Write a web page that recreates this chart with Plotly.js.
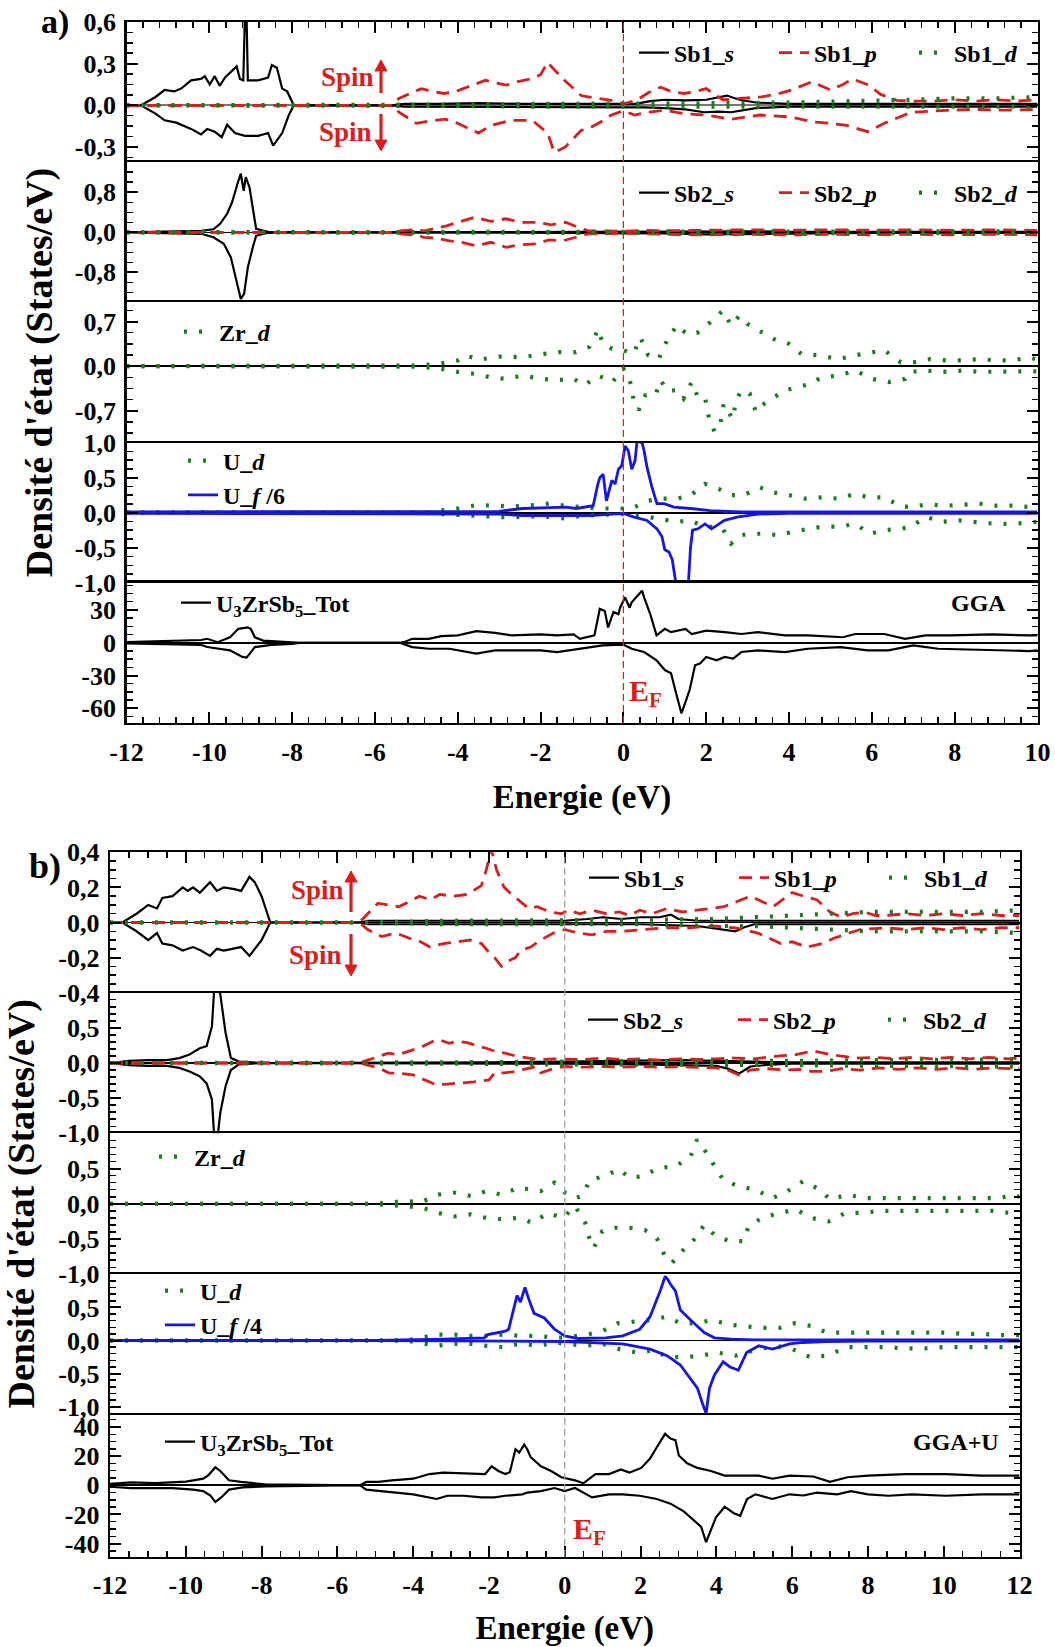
<!DOCTYPE html>
<html><head><meta charset="utf-8">
<script src="https://cdn.plot.ly/plotly-3.0.1.min.js"></script>
<style>html,body{margin:0;padding:0;background:#fff}#chart{width:1055px;height:1647px}</style>
</head><body><div id="chart"></div>
<script>
// ===================== DATA =====================
// Energy tick labels
const xTicksA = [-12,-10,-8,-6,-4,-2,0,2,4,6,8,10];
const xTextA  = ['-12','-10','-8','-6','-4','-2','0','2','4','6','8','10'];
const xTicksB = [-12,-10,-8,-6,-4,-2,0,2,4,6,8,10,12];
const xTextB  = ['-12','-10','-8','-6','-4','-2','0','2','4','6','8','10','12'];
const EF = 0; // Fermi level (eV)

// y tick labels per sub-panel
const a1Ticks = [-0.3,0,0.3,0.6],        a1Text = ['-0,3','0,0','0,3','0,6'];
const a2Ticks = [-0.8,0,0.8],            a2Text = ['-0,8','0,0','0,8'];
const a3Ticks = [-0.7,0,0.7],            a3Text = ['-0,7','0,0','0,7'];
const a4Ticks = [-1,-0.5,0,0.5,1],       a4Text = ['-1,0','-0,5','0,0','0,5','1,0'];
const a5Ticks = [-60,-30,0,30],          a5Text = ['-60','-30','0','30'];
const b1Ticks = [-0.4,-0.2,0,0.2,0.4],   b1Text = ['-0,4','-0,2','0,0','0,2','0,4'];
const b2Ticks = [-1,-0.5,0,0.5],         b2Text = ['-1,0','-0,5','0,0','0,5'];
const b3Ticks = [-1,-0.5,0,0.5],         b3Text = ['-1,0','-0,5','0,0','0,5'];
const b4Ticks = [-1,-0.5,0,0.5],         b4Text = ['-1,0','-0,5','0,0','0,5'];
const b5Ticks = [-40,-20,0,20,40],       b5Text = ['-40','-20','0','20','40'];

// ---------- Panel a) GGA : [energy, DOS] ----------
const a_sb1s_up = [[-12,0],[-11.65,0],[-11.3,0.06],[-11.08,0.11],[-10.85,0.1],[-10.68,0.12],[-10.44,0.18],[-10.2,0.19],[-10.11,0.21],[-9.99,0.15],[-9.87,0.21],[-9.75,0.14],[-9.62,0.2],[-9.46,0.25],[-9.34,0.28],[-9.26,0.19],[-9.18,0.18],[-9.14,0.65],[-9.1,0.63],[-9.07,0.18],[-8.95,0.18],[-8.82,0.18],[-8.58,0.2],[-8.49,0.29],[-8.37,0.27],[-8.24,0.12],[-8.12,0.1],[-7.96,0],[-5.6,0],[-5.3,0.01],[-4.5,0.01],[-3.5,0.015],[-2.5,0.01],[-1.5,0.01],[-0.5,0.01],[0.3,0.01],[0.65,0.03],[1.0,0.04],[1.5,0.035],[2.0,0.04],[2.5,0.07],[2.8,0.04],[3.2,0.02],[4,0.01],[6,0.01],[8,0.01],[10,0.01]];
const a_sb1s_dn = [[-12,0],[-11.65,0],[-11.3,-0.06],[-11.08,-0.108],[-10.8,-0.125],[-10.44,-0.17],[-10.2,-0.21],[-10.05,-0.17],[-9.87,-0.19],[-9.7,-0.23],[-9.57,-0.14],[-9.38,-0.2],[-9.14,-0.22],[-8.82,-0.22],[-8.58,-0.2],[-8.46,-0.29],[-8.24,-0.2],[-8.08,-0.07],[-7.96,0],[-5.6,0],[-5.3,-0.01],[-4,-0.01],[-2,-0.01],[0,-0.01],[0.5,-0.015],[1.0,-0.02],[1.5,-0.03],[1.95,-0.05],[2.3,-0.045],[2.6,-0.05],[3.2,-0.02],[4,-0.01],[6,-0.01],[8,-0.01],[10,-0.01]];
const a_sb1p_up = [[-12,0],[-5.6,0],[-5.42,0.05],[-5.1,0.09],[-4.88,0.12],[-4.6,0.1],[-4.33,0.085],[-4.05,0.1],[-3.79,0.13],[-3.55,0.16],[-3.33,0.18],[-3.05,0.16],[-2.83,0.145],[-2.55,0.17],[-2.25,0.19],[-2.0,0.22],[-1.83,0.31],[-1.65,0.25],[-1.46,0.19],[-1.2,0.12],[-1.02,0.07],[-0.85,0.06],[-0.55,0.05],[-0.29,0.036],[0,0.01],[0.32,0.036],[0.6,0.09],[0.9,0.13],[1.15,0.1],[1.46,0.085],[1.75,0.1],[2.0,0.12],[2.4,0.04],[2.9,0.05],[3.33,0.06],[3.7,0.08],[4.06,0.11],[4.55,0.17],[5.0,0.11],[5.3,0.15],[5.53,0.19],[5.93,0.145],[6.2,0.08],[6.6,0.036],[7.0,0.03],[7.5,0.03],[8.0,0.04],[8.5,0.03],[9.0,0.04],[9.5,0.03],[10,0.04]];
const a_sb1p_dn = [[-12,0],[-5.6,0],[-5.42,-0.05],[-5.0,-0.13],[-4.6,-0.11],[-4.3,-0.1],[-4.0,-0.13],[-3.8,-0.16],[-3.5,-0.2],[-3.2,-0.145],[-2.7,-0.108],[-2.2,-0.108],[-1.83,-0.2],[-1.67,-0.34],[-1.4,-0.3],[-1.02,-0.18],[-0.85,-0.17],[-0.55,-0.12],[-0.29,-0.07],[0,-0.04],[0.27,-0.07],[0.6,-0.05],[0.98,-0.036],[1.46,-0.06],[2.0,-0.07],[2.6,-0.1],[3.3,-0.07],[4.06,-0.085],[4.6,-0.12],[5.0,-0.13],[5.4,-0.145],[5.9,-0.19],[6.3,-0.13],[6.95,-0.05],[7.8,-0.036],[8.5,-0.03],[9.2,-0.035],[10,-0.03]];
const a_sb1d_up = [[-12,0],[-5.5,0],[-4,0.005],[-2,0.01],[0,0.01],[2,0.015],[4,0.02],[5,0.025],[6,0.03],[7,0.04],[8,0.05],[9,0.05],[10,0.06]];
const a_sb1d_dn = [[-12,0],[-5.5,0],[-4,-0.005],[-2,-0.01],[0,-0.01],[2,-0.01],[4,-0.01],[5,-0.01],[6,-0.01],[7,-0.01],[8,-0.01],[9,-0.01],[10,-0.01]];

const a_sb2s_up = [[-12,0],[-11,0.02],[-10.5,0.02],[-10.2,0.03],[-9.9,0.06],[-9.74,0.17],[-9.57,0.37],[-9.45,0.6],[-9.32,0.97],[-9.24,1.17],[-9.17,0.83],[-9.12,1.1],[-9.03,0.9],[-8.95,0.5],[-8.87,0.07],[-8.58,0.01],[-8.0,0],[-5.5,0],[-3,0.01],[0,0.01],[1,0.02],[2,0.03],[3,0.02],[4,0.01],[6,0.01],[8,0.01],[10,0.01]];
const a_sb2s_dn = [[-12,0],[-11,-0.02],[-10.5,-0.02],[-10.2,-0.03],[-9.9,-0.1],[-9.65,-0.23],[-9.48,-0.5],[-9.32,-1.03],[-9.24,-1.33],[-9.16,-1.23],[-9.07,-0.7],[-8.95,-0.3],[-8.87,-0.07],[-8.58,-0.01],[-8.0,0],[-5.5,0],[-3,-0.01],[0,-0.01],[1,-0.02],[2,-0.04],[3,-0.03],[4,-0.02],[6,-0.01],[8,-0.01],[10,-0.01]];
const a_sb2p_up = [[-12,0],[-5.6,0],[-5.4,0.03],[-5.1,0.05],[-4.8,0.03],[-4.5,0.08],[-4.27,0.13],[-4.0,0.2],[-3.6,0.3],[-3.2,0.22],[-2.83,0.27],[-2.5,0.2],[-2.1,0.2],[-1.75,0.15],[-1.4,0.2],[-1.1,0.1],[-0.85,0.03],[-0.5,0.03],[0,0.02],[0.5,0.04],[1,0.03],[2,0.04],[3,0.05],[4,0.04],[5,0.05],[6,0.04],[7,0.05],[8,0.04],[9,0.05],[10,0.04]];
const a_sb2p_dn = [[-12,0],[-5.6,0],[-5.4,-0.03],[-5.1,-0.05],[-4.8,-0.1],[-4.5,-0.12],[-4.2,-0.17],[-3.9,-0.2],[-3.55,-0.27],[-3.2,-0.2],[-2.83,-0.3],[-2.5,-0.25],[-2.1,-0.23],[-1.8,-0.15],[-1.46,-0.17],[-1.1,-0.08],[-0.85,-0.03],[-0.5,-0.03],[0,-0.02],[1,-0.04],[2,-0.05],[3,-0.04],[4,-0.05],[5,-0.04],[6,-0.05],[7,-0.04],[8,-0.05],[9,-0.04],[10,-0.05]];
const a_sb2d_up = [[-12,0],[-5.5,0],[-3,0.005],[0,0.01],[3,0.01],[6,0.015],[8,0.02],[10,0.02]];
const a_sb2d_dn = [[-12,0],[-5.5,0],[-3,-0.005],[0,-0.01],[3,-0.01],[6,-0.015],[8,-0.02],[10,-0.02]];

const a_zrd_up = [[-12,0],[-5.5,0],[-5.0,0.01],[-4.5,0.03],[-4.0,0.09],[-3.8,0.17],[-3.5,0.1],[-3.0,0.15],[-2.44,0.14],[-1.95,0.19],[-1.54,0.22],[-1.15,0.22],[-0.83,0.3],[-0.6,0.58],[-0.5,0.35],[-0.27,0.27],[0,0.25],[0.24,0.19],[0.41,0.45],[0.6,0.17],[0.85,0.11],[1.05,0.4],[1.29,0.64],[1.54,0.5],[1.78,0.52],[2.1,0.69],[2.4,0.87],[2.6,0.64],[2.8,0.79],[3.0,0.66],[3.4,0.52],[3.7,0.4],[4.0,0.35],[4.3,0.19],[4.7,0.17],[5.2,0.11],[5.6,0.17],[6.0,0.22],[6.3,0.25],[6.7,0.06],[7.0,0.06],[7.4,0.11],[7.8,0.09],[8.2,0.09],[8.6,0.11],[9.0,0.09],[9.4,0.09],[9.8,0.14],[10,0.1]];
const a_zrd_dn = [[-12,0],[-5.5,0],[-5.0,-0.01],[-4.5,-0.03],[-4.0,-0.09],[-3.6,-0.12],[-3.25,-0.17],[-2.85,-0.2],[-2.44,-0.15],[-1.95,-0.2],[-1.6,-0.22],[-1.2,-0.2],[-0.95,-0.3],[-0.6,-0.15],[-0.27,-0.25],[0,-0.04],[0.15,-0.2],[0.25,-0.54],[0.37,-0.69],[0.53,-0.46],[0.77,-0.46],[0.9,-0.22],[1.05,-0.38],[1.3,-0.38],[1.45,-0.51],[1.65,-0.25],[1.8,-0.49],[1.97,-0.49],[2.05,-0.77],[2.2,-1.03],[2.35,-0.88],[2.42,-0.59],[2.64,-0.83],[2.72,-0.54],[2.85,-0.38],[3.05,-0.43],[3.2,-0.72],[3.4,-0.59],[3.7,-0.46],[3.9,-0.38],[4.2,-0.33],[4.5,-0.28],[4.8,-0.17],[5.2,-0.15],[5.6,-0.07],[6.0,-0.2],[6.4,-0.25],[6.8,-0.2],[6.9,-0.09],[7.3,-0.07],[7.7,-0.09],[8.2,-0.07],[8.6,-0.09],[9.0,-0.09],[9.4,-0.09],[9.8,-0.09],[10,-0.08]];

const a_ud_up = [[-12,0],[-4.8,0],[-4.4,0.03],[-4.0,0.06],[-3.55,0.11],[-3.1,0.1],[-2.7,0.09],[-2.3,0.1],[-1.8,0.13],[-1.4,0.1],[-1.0,0.08],[-0.6,0.06],[-0.1,0.06],[0.2,0.06],[0.6,0.17],[0.9,0.2],[1.3,0.2],[1.63,0.25],[1.97,0.41],[2.3,0.34],[2.6,0.25],[2.9,0.25],[3.3,0.36],[3.6,0.29],[4.0,0.25],[4.4,0.2],[4.8,0.22],[5.2,0.2],[5.6,0.27],[5.9,0.22],[6.3,0.22],[6.7,0.09],[7.0,0.08],[7.3,0.12],[7.8,0.1],[8.2,0.12],[8.6,0.13],[9.0,0.1],[9.4,0.1],[9.8,0.08],[10,0.1]];
const a_ud_dn = [[-12,0],[-4.8,0],[-4.4,-0.02],[-4.0,-0.03],[-3.55,-0.04],[-3.1,-0.06],[-2.7,-0.07],[-2.3,-0.05],[-1.8,-0.06],[-1.4,-0.085],[-1.0,-0.04],[-0.5,-0.03],[0,-0.02],[0.5,-0.05],[1.0,-0.1],[1.3,-0.13],[1.6,-0.11],[1.9,-0.18],[2.4,-0.23],[2.6,-0.44],[2.85,-0.32],[3.05,-0.3],[3.4,-0.3],[3.75,-0.32],[4.1,-0.27],[4.45,-0.23],[4.8,-0.2],[5.2,-0.2],[5.6,-0.16],[5.95,-0.3],[6.3,-0.25],[6.7,-0.23],[6.95,-0.2],[7.3,-0.06],[7.7,-0.13],[8.1,-0.11],[8.6,-0.13],[9.0,-0.16],[9.4,-0.16],[9.8,-0.13],[10,-0.13]];
const a_uf_up = [[-12,0.01],[-8,0.01],[-5,0.01],[-3,0.02],[-2.44,0.06],[-1.8,0.07],[-1.38,0.08],[-1.14,0.06],[-0.8,0.09],[-0.73,0.1],[-0.62,0.4],[-0.57,0.5],[-0.49,0.55],[-0.41,0.17],[-0.28,0.46],[-0.2,0.41],[-0.12,0.62],[-0.04,0.67],[0.04,0.95],[0.12,0.88],[0.2,0.62],[0.28,0.74],[0.33,1.02],[0.45,1.0],[0.5,0.88],[0.57,0.65],[0.69,0.36],[0.81,0.13],[0.98,0.13],[1.22,0.08],[1.63,0.06],[2.1,0.03],[2.85,0.01],[3.5,0.01],[5,0.01],[7,0.01],[10,0.01]];
const a_uf_dn = [[-12,-0.01],[-8,-0.01],[-5,-0.01],[-3,-0.02],[-2.44,-0.04],[-0.8,-0.04],[0,-0.01],[0.24,-0.06],[0.57,-0.11],[0.81,-0.23],[0.93,-0.34],[1.0,-0.53],[1.1,-0.56],[1.18,-0.67],[1.26,-0.98],[1.35,-1.3],[1.45,-1.35],[1.55,-1.2],[1.62,-0.5],[1.67,-0.25],[1.8,-0.23],[1.97,-0.16],[2.13,-0.23],[2.44,-0.11],[2.77,-0.06],[3.25,-0.02],[4,-0.01],[6,-0.01],[10,-0.01]];

const a_tot_up = [[-12,0.5],[-11.5,1],[-11,1.5],[-10.5,2],[-10.2,2.5],[-10.05,3.6],[-9.8,0.5],[-9.5,5],[-9.3,12.7],[-9.07,14],[-9.0,12.7],[-8.9,5],[-8.7,2],[-8.3,1],[-8.0,0.6],[-7.8,0],[-5.4,0],[-5.3,0.5],[-5.1,3.6],[-4.7,3.6],[-4.4,6],[-4.0,6.7],[-3.55,10.6],[-3.1,9],[-2.7,6.7],[-2.3,7.6],[-2.0,7.6],[-1.6,6.7],[-1.2,7.6],[-1.05,3.6],[-0.7,6.7],[-0.57,31],[-0.45,29],[-0.37,14],[-0.24,28],[-0.12,26],[-0.08,32],[0.04,41.5],[0.15,32],[0.2,37],[0.37,44.5],[0.45,47.6],[0.5,41.5],[0.65,26],[0.8,6.7],[1.0,12.7],[1.15,9.7],[1.5,12.7],[1.65,8],[2.0,11],[2.45,9.7],[2.85,8],[3.25,9.7],[3.9,6.7],[4.45,6.7],[5.3,5],[5.6,8],[6.3,8],[6.8,3.6],[7.3,6.7],[7.9,6.7],[8.9,7.6],[9.8,6.7],[10,6.7]];
const a_tot_dn = [[-12,-0.5],[-11,-1.5],[-10.2,-2],[-10.05,-3.9],[-9.5,-7],[-9.2,-13],[-9.1,-13.6],[-8.9,-4],[-8.5,-2],[-8.0,-1],[-7.8,0],[-5.4,0],[-5.1,-4],[-4.7,-5.5],[-4.2,-5.5],[-3.55,-10],[-3.1,-7],[-2.3,-7],[-2.0,-7],[-1.6,-8.5],[-1.2,-6.4],[-0.8,-4],[-0.5,-2.4],[0,-1.8],[0.2,-5.5],[0.5,-8.5],[0.8,-16],[1.0,-25],[1.15,-28],[1.25,-43],[1.4,-64.5],[1.5,-54],[1.6,-43],[1.73,-20.6],[1.85,-19],[2.0,-13],[2.25,-16],[2.45,-13],[2.65,-14.5],[2.85,-8.5],[3.25,-7],[3.9,-8.5],[4.45,-5.5],[5.25,-4],[5.9,-7],[6.4,-7],[7.0,-2.4],[7.6,-5.5],[8.8,-7],[9.8,-7.6],[10,-7]];

// ---------- Panel b) GGA+U : [energy, DOS] ----------
const b_sb1s_up = [[-12,0],[-11.67,0],[-11.3,0.05],[-10.99,0.1],[-10.76,0.08],[-10.62,0.14],[-10.35,0.15],[-10.08,0.2],[-9.95,0.18],[-9.81,0.2],[-9.63,0.17],[-9.36,0.23],[-9.18,0.18],[-9.0,0.2],[-8.72,0.19],[-8.54,0.18],[-8.32,0.26],[-8.18,0.23],[-8.0,0.15],[-7.77,0],[-5.4,0],[-5.2,0.01],[-4,0.01],[-2,0.01],[-1,0.01],[0,0.01],[0.6,0.02],[1.0,0.03],[1.5,0.02],[2.0,0.03],[2.5,0.03],[2.8,0.045],[3.0,0.02],[3.5,0.01],[4.0,0.01],[5,0.01],[6,0.01],[8,0.01],[10,0.01],[12,0.01]];
const b_sb1s_dn = [[-12,0],[-11.67,0],[-11.3,-0.05],[-10.99,-0.1],[-10.76,-0.06],[-10.62,-0.12],[-10.35,-0.13],[-10.08,-0.16],[-9.81,-0.14],[-9.6,-0.16],[-9.36,-0.19],[-9.18,-0.15],[-9.0,-0.16],[-8.54,-0.14],[-8.32,-0.19],[-8.18,-0.15],[-8.0,-0.1],[-7.77,0],[-5.4,0],[-5.2,-0.01],[-2,-0.01],[0,-0.01],[2,-0.01],[3.5,-0.02],[4.2,-0.04],[4.5,-0.05],[4.7,-0.03],[5.0,-0.01],[6,-0.01],[8,-0.01],[10,-0.01],[12,-0.01]];
const b_sb1p_up = [[-12,0],[-5.42,0],[-5.2,0.05],[-4.93,0.11],[-4.65,0.1],[-4.38,0.09],[-4.1,0.12],[-3.84,0.15],[-3.55,0.13],[-3.3,0.16],[-2.95,0.15],[-2.57,0.16],[-2.35,0.19],[-2.2,0.21],[-2.07,0.3],[-1.94,0.42],[-1.8,0.3],[-1.6,0.2],[-1.4,0.16],[-1.17,0.12],[-0.95,0.08],[-0.72,0.09],[-0.4,0.06],[-0.09,0.05],[0.09,0.07],[0.4,0.05],[0.72,0.07],[1.1,0.05],[1.44,0.06],[1.7,0.04],[1.98,0.07],[2.3,0.05],[2.7,0.08],[3.1,0.06],[3.5,0.07],[3.9,0.08],[4.2,0.09],[4.55,0.12],[4.9,0.15],[5.2,0.12],[5.5,0.09],[5.75,0.13],[6.0,0.17],[6.3,0.15],[6.65,0.13],[7.0,0.06],[7.3,0.03],[7.6,0.05],[7.9,0.06],[8.2,0.04],[8.5,0.04],[9,0.05],[9.5,0.04],[10,0.05],[10.5,0.04],[11,0.05],[11.5,0.04],[12,0.04]];
const b_sb1p_dn = [[-12,0],[-5.42,0],[-5.2,-0.04],[-4.83,-0.08],[-4.45,-0.06],[-4.1,-0.09],[-3.8,-0.11],[-3.56,-0.14],[-3.2,-0.12],[-2.84,-0.11],[-2.5,-0.1],[-2.2,-0.12],[-2.0,-0.17],[-1.85,-0.2],[-1.67,-0.25],[-1.5,-0.22],[-1.3,-0.2],[-1.17,-0.16],[-0.9,-0.14],[-0.63,-0.1],[-0.3,-0.06],[0,-0.04],[0.35,-0.06],[0.72,-0.07],[1.1,-0.05],[1.5,-0.05],[2.0,-0.04],[2.7,-0.03],[3.3,-0.03],[3.9,-0.02],[4.5,-0.03],[5.1,-0.06],[5.4,-0.09],[5.7,-0.12],[6.0,-0.11],[6.4,-0.14],[6.8,-0.12],[7.1,-0.09],[7.5,-0.06],[7.8,-0.04],[8.5,-0.03],[9,-0.04],[9.5,-0.03],[10,-0.04],[10.5,-0.03],[11,-0.04],[11.5,-0.03],[12,-0.03]];
const b_sb1d_up = [[-12,0],[-5.4,0],[-3,0.01],[0,0.01],[2,0.015],[4,0.02],[5,0.03],[6,0.04],[7,0.05],[8,0.06],[9,0.06],[10,0.06],[11,0.06],[12,0.07]];
const b_sb1d_dn = [[-12,0],[-5.4,0],[-3,-0.01],[0,-0.01],[2,-0.01],[4,-0.02],[5,-0.02],[6,-0.03],[7,-0.04],[8,-0.05],[9,-0.05],[10,-0.05],[11,-0.05],[12,-0.06]];

const b_sb2s_up = [[-12,0],[-11.5,0.03],[-11,0.04],[-10.5,0.04],[-10.17,0.07],[-9.9,0.12],[-9.63,0.21],[-9.45,0.24],[-9.31,0.52],[-9.25,1.05],[-9.2,1.05],[-9.15,1.05],[-9.09,0.98],[-8.95,0.43],[-8.81,0.07],[-8.6,0.02],[-8,0],[-5.4,0],[-2,0.01],[0,0.02],[2,0.03],[3,0.04],[4,0.03],[5,0.02],[6,0.01],[8,0.01],[10,0.01],[12,0.01]];
const b_sb2s_dn = [[-12,0],[-11.5,-0.03],[-11,-0.04],[-10.5,-0.04],[-10.17,-0.07],[-9.9,-0.12],[-9.63,-0.19],[-9.45,-0.29],[-9.31,-0.52],[-9.25,-1.05],[-9.2,-1.05],[-9.15,-1.0],[-9.09,-0.71],[-8.95,-0.33],[-8.81,-0.1],[-8.6,-0.02],[-8,0],[-5.4,0],[-2,-0.01],[0,-0.01],[2,-0.02],[3,-0.03],[4,-0.04],[4.3,-0.08],[4.6,-0.15],[4.9,-0.05],[5.5,-0.02],[6,-0.01],[8,-0.01],[10,-0.01],[12,-0.01]];
const b_sb2p_up = [[-12,0],[-5.42,0],[-5.2,0.04],[-4.9,0.1],[-4.65,0.14],[-4.4,0.12],[-4.1,0.17],[-3.8,0.22],[-3.48,0.31],[-3.3,0.33],[-3.05,0.28],[-2.84,0.31],[-2.57,0.29],[-2.3,0.24],[-2.07,0.21],[-1.8,0.16],[-1.57,0.14],[-1.3,0.1],[-0.94,0.07],[-0.6,0.05],[-0.3,0.06],[0,0.06],[0.5,0.05],[1,0.07],[1.5,0.05],[2,0.06],[2.5,0.04],[3,0.06],[3.5,0.05],[4,0.06],[4.5,0.07],[5,0.06],[5.3,0.08],[5.66,0.1],[6.1,0.12],[6.56,0.17],[7.0,0.12],[7.3,0.1],[7.7,0.07],[8.2,0.08],[8.7,0.06],[9.2,0.08],[9.7,0.06],[10.2,0.08],[10.7,0.06],[11.2,0.08],[11.7,0.06],[12,0.07]];
const b_sb2p_dn = [[-12,0],[-5.42,0],[-5.2,-0.03],[-4.9,-0.07],[-4.65,-0.14],[-4.3,-0.15],[-4.0,-0.17],[-3.7,-0.24],[-3.4,-0.31],[-3.1,-0.3],[-2.8,-0.29],[-2.4,-0.27],[-2.0,-0.24],[-1.85,-0.14],[-1.6,-0.14],[-1.3,-0.12],[-1.0,-0.08],[-0.76,-0.05],[-0.63,-0.14],[-0.3,-0.08],[0,-0.05],[0.5,-0.06],[1,-0.05],[1.5,-0.06],[2,-0.05],[2.5,-0.06],[3,-0.05],[3.5,-0.06],[4,-0.07],[4.3,-0.1],[4.6,-0.17],[4.9,-0.1],[5.3,-0.08],[5.8,-0.1],[6.2,-0.09],[6.5,-0.12],[6.9,-0.12],[7.3,-0.08],[7.8,-0.1],[8.3,-0.07],[8.8,-0.09],[9.3,-0.07],[9.8,-0.09],[10.3,-0.07],[10.8,-0.09],[11.3,-0.07],[11.8,-0.08],[12,-0.07]];
const b_sb2d_up = [[-12,0],[-5.4,0],[-3,0.01],[0,0.02],[3,0.02],[6,0.03],[8,0.04],[10,0.04],[12,0.05]];
const b_sb2d_dn = [[-12,0],[-5.4,0],[-3,-0.01],[0,-0.02],[3,-0.02],[6,-0.03],[8,-0.04],[10,-0.04],[12,-0.05]];

const b_zrd_up = [[-12,0],[-5.3,0],[-5.06,0],[-4.6,0.02],[-4.2,0.04],[-3.8,0.02],[-3.34,0.13],[-2.93,0.16],[-2.48,0.11],[-2.07,0.18],[-1.67,0.13],[-1.21,0.23],[-0.63,0.18],[-0.27,0.3],[0,0.16],[0.27,0.08],[0.45,0.11],[0.67,0.34],[1.03,0.39],[1.44,0.49],[1.7,0.37],[2.07,0.39],[2.47,0.51],[2.92,0.53],[3.32,0.67],[3.49,0.91],[3.68,0.77],[3.9,0.58],[4.18,0.34],[4.58,0.25],[5.03,0.2],[5.48,0.08],[5.88,0.18],[6.29,0.32],[6.74,0.2],[7.0,0.06],[7.46,0.13],[7.9,0.08],[8.3,0.08],[8.8,0.08],[9.3,0.08],[9.8,0.08],[10.2,0.08],[10.7,0.08],[11.1,0.08],[11.5,0.08],[11.8,0.13],[12,0.1]];
const b_zrd_dn = [[-12,0],[-5.3,0],[-5.06,0],[-4.6,-0.02],[-4.2,-0.04],[-3.8,-0.05],[-3.34,-0.13],[-2.93,-0.18],[-2.48,-0.15],[-2.07,-0.2],[-1.62,-0.22],[-1.2,-0.2],[-0.85,-0.27],[-0.45,-0.13],[-0.04,-0.2],[0.27,-0.03],[0.54,-0.27],[0.67,-0.53],[0.76,-0.63],[0.99,-0.39],[1.35,-0.34],[1.71,-0.34],[2.11,-0.37],[2.43,-0.49],[2.65,-0.75],[2.83,-0.84],[3.14,-0.65],[3.41,-0.51],[3.68,-0.3],[3.99,-0.46],[4.36,-0.53],[4.58,-0.53],[4.72,-0.53],[4.85,-0.32],[5.21,-0.2],[5.66,-0.13],[6.11,-0.08],[6.5,-0.2],[6.96,-0.25],[7.41,-0.13],[7.86,-0.13],[8.3,-0.1],[8.8,-0.1],[9.3,-0.1],[9.8,-0.1],[10.3,-0.1],[10.8,-0.1],[11.3,-0.1],[11.8,-0.13],[12,-0.1]];

const b_ud_up = [[-12,0],[-4.2,0],[-3.8,0.04],[-3.38,0.09],[-2.93,0.09],[-2.48,0.07],[-2.07,0.07],[-1.62,0.09],[-1.2,0.07],[-0.67,0.07],[-0.27,0.04],[0.1,0.05],[0.58,0.09],[0.99,0.14],[1.39,0.26],[1.8,0.29],[2.25,0.31],[2.7,0.36],[3.05,0.26],[3.46,0.26],[3.91,0.31],[4.31,0.24],[4.76,0.22],[5.21,0.19],[5.66,0.19],[6.07,0.26],[6.5,0.22],[6.92,0.12],[7.46,0.12],[7.9,0.12],[8.5,0.12],[9,0.12],[9.5,0.12],[10,0.12],[10.5,0.1],[11,0.1],[11.5,0.08],[12,0.08]];
const b_ud_dn = [[-12,0],[-4.2,0],[-3.8,-0.04],[-3.38,-0.08],[-2.93,-0.05],[-2.48,-0.05],[-2.07,-0.08],[-1.62,-0.1],[-1.2,-0.05],[-0.67,-0.08],[-0.27,-0.03],[0.1,-0.05],[0.54,-0.08],[0.99,-0.05],[1.44,-0.13],[1.89,-0.18],[2.38,-0.15],[2.7,-0.25],[3.14,-0.25],[3.6,-0.23],[4.0,-0.18],[4.5,-0.23],[5.12,-0.13],[5.57,-0.08],[6.0,-0.13],[6.47,-0.25],[6.9,-0.23],[7.46,-0.1],[8,-0.1],[8.5,-0.1],[9,-0.12],[9.5,-0.12],[10,-0.1],[10.5,-0.1],[11,-0.1],[11.5,-0.1],[12,-0.1]];
const b_uf_up = [[-12,0],[-8,0],[-5,0],[-3.2,0.02],[-2.5,0.03],[-2.12,0.04],[-2.03,0.09],[-1.8,0.12],[-1.57,0.14],[-1.48,0.17],[-1.35,0.46],[-1.26,0.68],[-1.17,0.58],[-1.05,0.8],[-0.94,0.61],[-0.81,0.41],[-0.54,0.34],[-0.27,0.17],[0,0.07],[0.36,0.03],[1.08,0.04],[1.53,0.07],[1.98,0.17],[2.25,0.36],[2.52,0.75],[2.65,0.97],[2.72,0.92],[2.79,0.85],[2.92,0.75],[3.05,0.46],[3.32,0.31],[3.68,0.12],[3.95,0.04],[4.4,0.02],[5,0.01],[8,0.01],[12,0.01]];
const b_uf_dn = [[-12,0],[-5,0],[0,-0.015],[0.63,-0.03],[1.53,-0.05],[2.25,-0.13],[2.7,-0.23],[3.05,-0.37],[3.32,-0.57],[3.5,-0.72],[3.64,-0.96],[3.73,-1.1],[3.82,-0.72],[3.95,-0.52],[4.18,-0.32],[4.36,-0.4],[4.45,-0.42],[4.58,-0.45],[4.8,-0.18],[5.12,-0.08],[5.48,-0.13],[5.93,-0.05],[6.29,-0.03],[6.9,-0.015],[8,-0.01],[12,-0.01]];

const b_tot_up = [[-12,1],[-11.44,2],[-10.8,1.5],[-10.35,2],[-10.0,2.5],[-9.8,3.4],[-9.54,4.5],[-9.4,7],[-9.22,12.3],[-9.09,9.8],[-8.86,3.4],[-8.54,2.3],[-8.2,1.2],[-7.9,0.6],[-5.4,0],[-5.24,2.3],[-4.92,2.3],[-4.56,3.4],[-4.0,4.5],[-3.57,7.7],[-3.2,8.7],[-2.66,8],[-2.3,7.7],[-2.1,7.7],[-1.93,13],[-1.75,9.8],[-1.57,7.7],[-1.45,9],[-1.3,24.7],[-1.2,22.5],[-1.07,27.9],[-0.99,24.7],[-0.9,19.4],[-0.63,13],[-0.36,9.8],[-0.09,5.5],[0.27,3.4],[0.49,1.3],[0.81,7.7],[1.17,7.7],[1.48,10.9],[1.71,8.7],[2.02,11.9],[2.25,18.3],[2.52,30],[2.65,35.3],[2.79,32],[2.92,31],[3.01,20.4],[3.23,15.1],[3.5,11.9],[3.86,9.8],[4.22,6.6],[4.67,6.6],[5.12,6.6],[5.48,4.5],[5.93,6.6],[6.56,6],[7.0,2.3],[7.46,5.5],[8.0,6.6],[9.0,7.7],[10.06,7.7],[11.0,6.6],[12,6.6]];
const b_tot_dn = [[-12,-1],[-11.44,-2],[-10.35,-2],[-9.8,-3],[-9.54,-4],[-9.35,-7],[-9.22,-11.5],[-9.05,-8],[-8.86,-3],[-8.5,-1.5],[-7.9,-0.85],[-5.4,0],[-5.24,-3],[-4.9,-4],[-4.56,-5],[-4.0,-6.2],[-3.38,-9.4],[-3.1,-7.2],[-2.66,-7.2],[-2.2,-8.3],[-1.85,-8.3],[-1.57,-7.2],[-1.12,-6.2],[-0.99,-5],[-0.63,-4],[-0.27,-1.9],[0,-4],[0.27,-1.9],[0.72,-8.3],[1.17,-6.2],[1.53,-6.2],[1.98,-7.2],[2.43,-9.4],[2.79,-12.6],[3.14,-17.9],[3.41,-24.3],[3.6,-28.5],[3.73,-39],[3.86,-30.6],[3.99,-22],[4.22,-14.7],[4.45,-19],[4.63,-21],[4.81,-9.4],[5.03,-6.2],[5.48,-9.4],[5.93,-6.2],[6.3,-7],[6.65,-5],[7.19,-6.2],[7.55,-4],[8.0,-6.2],[8.54,-7.2],[9.16,-6.2],[10.06,-7.2],[11.0,-6.2],[12,-6.2]];

// ===================== STYLE / LAYOUT =====================
const W = 1055, H = 1647;
const FONT = 'Liberation Serif, Times New Roman, serif';
const fx = px => px / W;
const fy = px => 1 - px / H;
const RED = '#d81e1e', GREEN = '#1e7a1e', BLUE = '#1616e0', BLACK = '#000000';
const sty = {
  s: {color: BLACK, width: 2.2, dash: 'solid'},
  p: {color: RED, width: 2.8, dash: '13px,8px'},
  d: {color: GREEN, width: 4.2, dash: '3px,12px'},
  f: {color: BLUE, width: 2.8, dash: 'solid'}
};

const traces = [];
function curve(up, dn, k, style, name) {
  const ax = {xaxis: 'x' + (k === 1 ? '' : k), yaxis: 'y' + (k === 1 ? '' : k)};
  const lg = 'legend' + (k === 1 ? '' : k);
  traces.push(Object.assign({type: 'scatter', mode: 'lines', x: up.map(p => p[0]), y: up.map(p => p[1]),
    line: Object.assign({}, style), name: name, legend: lg, showlegend: true, hoverinfo: 'skip'}, ax));
  traces.push(Object.assign({type: 'scatter', mode: 'lines', x: dn.map(p => p[0]), y: dn.map(p => p[1]),
    line: Object.assign({}, style), name: name, legend: lg, showlegend: false, hoverinfo: 'skip'}, ax));
}
// panel a
curve(a_sb1s_up, a_sb1s_dn, 1, sty.s, 'Sb1_<i>s</i>');
curve(a_sb1p_up, a_sb1p_dn, 1, sty.p, 'Sb1_<i>p</i>');
curve(a_sb1d_up, a_sb1d_dn, 1, sty.d, 'Sb1_<i>d</i>');
curve(a_sb2s_up, a_sb2s_dn, 2, sty.s, 'Sb2_<i>s</i>');
curve(a_sb2p_up, a_sb2p_dn, 2, sty.p, 'Sb2_<i>p</i>');
curve(a_sb2d_up, a_sb2d_dn, 2, sty.d, 'Sb2_<i>d</i>');
curve(a_zrd_up, a_zrd_dn, 3, sty.d, 'Zr_<i>d</i>');
curve(a_ud_up, a_ud_dn, 4, sty.d, 'U_<i>d</i>');
curve(a_uf_up, a_uf_dn, 4, sty.f, 'U_<i>f</i> /6');
curve(a_tot_up, a_tot_dn, 5, sty.s, 'U<sub>3</sub>ZrSb<sub>5</sub>_Tot');
// panel b
curve(b_sb1s_up, b_sb1s_dn, 6, sty.s, 'Sb1_<i>s</i>');
curve(b_sb1p_up, b_sb1p_dn, 6, sty.p, 'Sb1_<i>p</i>');
curve(b_sb1d_up, b_sb1d_dn, 6, sty.d, 'Sb1_<i>d</i>');
curve(b_sb2s_up, b_sb2s_dn, 7, sty.s, 'Sb2_<i>s</i>');
curve(b_sb2p_up, b_sb2p_dn, 7, sty.p, 'Sb2_<i>p</i>');
curve(b_sb2d_up, b_sb2d_dn, 7, sty.d, 'Sb2_<i>d</i>');
curve(b_zrd_up, b_zrd_dn, 8, sty.d, 'Zr_<i>d</i>');
curve(b_ud_up, b_ud_dn, 9, sty.d, 'U_<i>d</i>');
curve(b_uf_up, b_uf_dn, 9, sty.f, 'U_<i>f</i> /4');
curve(b_tot_up, b_tot_dn, 10, sty.s, 'U<sub>3</sub>ZrSb<sub>5</sub>_Tot');

const tickFont = {family: FONT, size: 26, color: '#000', weight: 'bold'};
const titleFont = {family: FONT, size: 33, color: '#000', weight: 'bold'};
const yTitleFont = {family: FONT, size: 38, color: '#000', weight: 'bold'};

// pixel frames
const aX = [126.5, 1037.5], bX = [110, 1019.5];
const aY = [22, 162.2, 302.4, 442.6, 582.8, 723];
const bY = [852.3, 992.7, 1133.3, 1274.3, 1415.3, 1556.7];

const layout = {
  width: W, height: H, autosize: false,
  margin: {l: 0, r: 0, t: 0, b: 0},
  paper_bgcolor: '#fff', plot_bgcolor: 'rgba(0,0,0,0)',
  showlegend: true, font: {family: FONT, color: '#000'},
  shapes: [], annotations: []
};

// role: 'top' (frame top with ticks), 'mid' (boundary line only), 'bot' (frame bottom with ticks+labels)
function xAxis(k, role, xpx, range, tv, tt, minorDt, title) {
  const a = {
    anchor: 'y' + (k === 1 ? '' : k), domain: [fx(xpx[0]), fx(xpx[1])], range: range,
    showgrid: false, zeroline: false, showline: true, linecolor: '#000', linewidth: 2, mirror: false,
    fixedrange: true, tickfont: tickFont, showticklabels: false, ticks: '', side: 'top'
  };
  if (k !== 1 && k !== 6) a.matches = (k <= 5) ? 'x' : 'x6';
  if (role !== 'mid') {
    Object.assign(a, {linewidth: 2.4, ticks: 'inside', ticklen: 11, tickwidth: 2, tickcolor: '#000',
      tickmode: 'array', tickvals: tv, ticktext: tt,
      minor: {ticks: 'inside', ticklen: 6, tickwidth: 1.5, tickcolor: '#000', tickmode: 'linear', tick0: 0, dtick: minorDt, showgrid: false}});
  }
  if (role === 'bot') {
    a.side = 'bottom'; a.mirror = true; a.showticklabels = true; a.ticklabelstandoff = 4;
    a.title = {text: title, font: titleFont, standoff: 20};
  }
  return a;
}
function yAxis(k, ypx, range, tv, tt, minorDt, zc, title, standoff) {
  const a = {
    anchor: 'x' + (k === 1 ? '' : k), domain: [fy(ypx[1]), fy(ypx[0])], range: range,
    tickmode: 'array', tickvals: tv, ticktext: tt,
    ticks: 'inside', ticklen: 11, tickwidth: 2, tickcolor: '#000',
    minor: {ticks: 'inside', ticklen: 6, tickwidth: 1.5, tickcolor: '#000', tickmode: 'linear', tick0: 0, dtick: minorDt, showgrid: false},
    showline: true, linecolor: '#000', linewidth: 2.4, mirror: 'ticks',
    showgrid: false, zeroline: true, zerolinecolor: zc, zerolinewidth: 1.6,
    tickfont: tickFont, fixedrange: true, ticklabelstandoff: 3
  };
  if (title) a.title = {text: title, font: yTitleFont, standoff: standoff};
  return a;
}
// en spaces shift the panel-a title to the right, as in the original figure
const ENERGY_A = '\u2002\u2002\u2002Energie (eV)';
const ENERGY_B = 'Energie (eV)';
const DOS = "Densité d'état (States/eV)";
const xrA = [-12, 10], xrB = [-12, 12];
const roles = ['top', 'mid', 'mid', 'mid', 'bot'];
for (let i = 0; i < 5; i++) {
  const k = i + 1, kb = i + 6;
  layout['xaxis' + (k === 1 ? '' : k)] = xAxis(k, roles[i], aX, xrA, xTicksA, xTextA, 0.4, ENERGY_A);
  layout['xaxis' + kb] = xAxis(kb, roles[i], bX, xrB, xTicksB, xTextB, 0.5, ENERGY_B);
}
layout.yaxis  = yAxis(1, [aY[0], aY[1]], [-0.41, 0.6], a1Ticks, a1Text, 0.075, '#777');
layout.yaxis2 = yAxis(2, [aY[1], aY[2]], [-1.4, 1.4], a2Ticks, a2Text, 0.2, '#000');
layout.yaxis3 = yAxis(3, [aY[2], aY[3]], [-1.2, 1.0], a3Ticks, a3Text, 0.175, '#000', DOS, 11);
layout.yaxis4 = yAxis(4, [aY[3], aY[4]], [-1, 1], a4Ticks, a4Text, 0.125, '#000');
layout.yaxis5 = yAxis(5, [aY[4], aY[5]], [-73.4, 54.8], a5Ticks, a5Text, 7.5, '#000');
layout.yaxis6 = yAxis(6, [bY[0], bY[1]], [-0.4, 0.4], b1Ticks, b1Text, 0.05, '#000');
layout.yaxis7 = yAxis(7, [bY[1], bY[2]], [-1, 1], b2Ticks, b2Text, 0.1, '#000');
layout.yaxis8 = yAxis(8, [bY[2], bY[3]], [-1, 1], b3Ticks, b3Text, 0.1, '#000', DOS, 16);
layout.yaxis9 = yAxis(9, [bY[3], bY[4]], [-1.13, 1], b4Ticks, b4Text, 0.1, '#000');
layout.yaxis10 = yAxis(10, [bY[4], bY[5]], [-49, 48], b5Ticks, b5Text, 5, '#000');

// Legends
function legend(xpx, ypx, orient, entryW) {
  const l = {x: fx(xpx), y: fy(ypx), xref: 'paper', yref: 'paper', xanchor: 'left', yanchor: 'middle',
    orientation: orient, bgcolor: 'rgba(0,0,0,0)', borderwidth: 0,
    font: {family: FONT, size: 24, color: '#000', weight: 'bold'},
    itemwidth: 30, tracegroupgap: 0, traceorder: 'normal', itemclick: false, itemdoubleclick: false};
  if (entryW) { l.entrywidth = entryW; l.entrywidthmode = 'pixels'; }
  return l;
}
layout.legend   = legend(634, 53, 'h', 95);
layout.legend2  = legend(634, 193, 'h', 95);
layout.legend3  = legend(179, 332, 'v');
layout.legend4  = legend(183, 478, 'v');
layout.legend5  = legend(176, 603, 'v');
layout.legend6  = legend(584, 878, 'h', 105);
layout.legend7  = legend(583, 1020, 'h', 105);
layout.legend8  = legend(154, 1157, 'v');
layout.legend9  = legend(160, 1308, 'v');
layout.legend10 = legend(160, 1442, 'v');

// Fermi level lines
layout.shapes.push({type: 'line', xref: 'x', yref: 'paper', x0: EF, x1: EF, y0: fy(aY[5]), y1: fy(aY[0]),
  line: {color: '#d81e1e', width: 1.2, dash: '7px,4px'}, layer: 'above'});
layout.shapes.push({type: 'line', xref: 'x6', yref: 'paper', x0: EF, x1: EF, y0: fy(bY[5]), y1: fy(bY[0]),
  line: {color: '#999999', width: 1.2, dash: '7px,4px'}, layer: 'above'});

// Spin arrows (decorative shapes in page coordinates)
function spinArrow(xpx, headY, tailY) {
  const dir = headY < tailY ? 1 : -1;
  const baseY = headY + dir * 11;
  layout.shapes.push({type: 'line', xref: 'paper', yref: 'paper', x0: fx(xpx), x1: fx(xpx),
    y0: fy(tailY), y1: fy(baseY), line: {color: RED, width: 3.2}});
  layout.shapes.push({type: 'path', xref: 'paper', yref: 'paper',
    path: 'M' + fx(xpx - 6) + ',' + fy(baseY) + ' L' + fx(xpx + 6) + ',' + fy(baseY) + ' L' + fx(xpx) + ',' + fy(headY) + ' Z',
    fillcolor: RED, line: {color: RED, width: 1}});
}
spinArrow(381, 60, 93);
spinArrow(381, 151, 114);
spinArrow(351, 871, 912);
spinArrow(351, 976, 934);

// Text annotations
function txt(text, xpx, ypx, size, color, xanchor) {
  layout.annotations.push({text: text, xref: 'paper', yref: 'paper', x: fx(xpx), y: fy(ypx),
    xanchor: xanchor || 'center', yanchor: 'middle', showarrow: false,
    font: {family: FONT, size: size, color: color, weight: 'bold'}});
}
txt('a)', 55, 22, 34, '#000');
txt('b)', 45, 866, 36, '#000');
txt('Spin', 347, 77, 27, RED);
txt('Spin', 345, 132, 27, RED);
txt('Spin', 317, 890, 27, RED);
txt('Spin', 315, 955, 27, RED);
txt('E<sub>F</sub>', 627, 693, 30, RED, 'left');
txt('E<sub>F</sub>', 571, 1531, 30, RED, 'left');
txt('GGA', 1008, 603, 24, '#000', 'right');
txt('GGA+U', 1001, 1442, 24, '#000', 'right');

Plotly.newPlot('chart', traces, layout, {staticPlot: true, displayModeBar: false});
</script></body></html>
